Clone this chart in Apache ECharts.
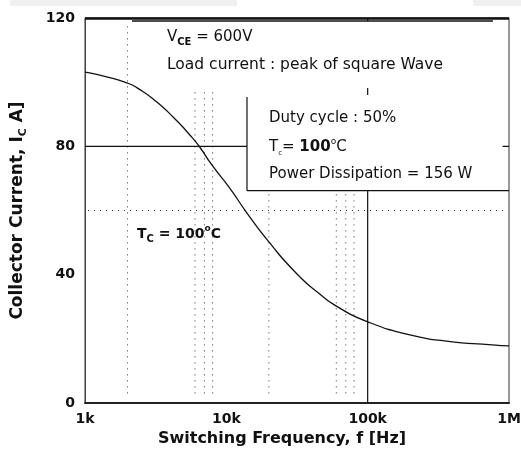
<!DOCTYPE html>
<html>
<head>
<meta charset="utf-8">
<script src="https://cdn.jsdelivr.net/npm/echarts@6/dist/echarts.min.js"></script>
<style>
  html, body { margin: 0; padding: 0; background: #fff; }
  #chart { width: 521px; height: 459px; }
</style>
</head>
<body>
<div id="chart"></div>
<script>
// switching frequency [Hz] vs collector current [A]
const freqs = [1000, 1400, 2000, 2400, 3100, 4300, 5400, 6400, 7900, 10600, 14000, 20000, 31500, 46000, 60000, 100000, 210000, 360000, 760000, 1000000];
const current = [103.1, 101.7, 99.7, 97.9, 94.4, 88.7, 84, 80.1, 74.2, 66.9, 59.2, 50.2, 40.3, 33.9, 30.2, 25.3, 21, 19.3, 18.1, 17.8];

const xTicks = { 1000: '1k', 10000: '10k', 100000: '100k', 1000000: '1M' };
const yTicks = [0, 40, 80, 120];

// leftover dotted grid pieces
const dotFreqsTall = [2000];
const dotFreqsMid = [6000, 7000, 8000];
const dotFreqsLow = [20000, 60000, 70000, 80000];
const dotLevel = 60;

// solid reference lines / legend box outline
const boxFreq = 14000;
const boxTop = 95.4;
const boxBottom = 66.2;
const refCurrent = 80;
const refFreq = 100000;

const chart = echarts.init(document.getElementById('chart'));
const font = "'DejaVu Sans', 'Liberation Sans', sans-serif";

const segs = [];
function seg(pts, style) {
  segs.push({
    type: 'line',
    data: pts,
    showSymbol: false,
    silent: true,
    lineStyle: style,
    z: 1
  });
}
const dotted = { color: '#333', width: 1, type: [1, 5] };
const solid = { color: '#111', width: 1.2 };

dotFreqsTall.forEach(f => seg([[f, 3], [f, 118]], dotted));
dotFreqsMid.forEach(f => seg([[f, 3], [f, 97.5]], dotted));
dotFreqsLow.forEach(f => seg([[f, 3], [f, boxBottom]], dotted));
seg([[1050, dotLevel], [970000, dotLevel]], dotted);

seg([[1000, refCurrent], [boxFreq, refCurrent]], solid);
seg([[boxFreq, boxTop], [boxFreq, boxBottom], [1000000, boxBottom]], solid);
seg([[refFreq, boxBottom], [refFreq, 0]], solid);
seg([[refFreq, 98.2], [refFreq, 96]], solid);
seg([[900000, refCurrent], [1000000, refCurrent]], solid);
seg([[2150, 119.1], [770000, 119.1]], { color: '#111', width: 1.5 });
seg([[refFreq, 119.1], [refFreq, 120]], solid);

const subStyle = { fontFamily: font, fontSize: 10, fontWeight: 'bold', fill: '#111', verticalAlign: 'bottom', lineHeight: 20 };
const supStyle = { fontFamily: font, fontSize: 9, fontWeight: 'bold', fill: '#111', verticalAlign: 'top', lineHeight: 20 };

const option = {
  animation: false,
  grid: {
    left: 85, right: 12, top: 18, bottom: 56,
    outerBoundsMode: 'none',
    show: true, borderColor: '#333', borderWidth: 1
  },
  xAxis: {
    type: 'log', logBase: 10, min: 1000, max: 1000000,
    name: 'Switching Frequency, f [Hz]',
    nameLocation: 'middle', nameGap: 26,
    nameTextStyle: { fontFamily: font, fontWeight: 'bold', fontSize: 16, color: '#111', padding: [0, 30, 0, 0] },
    axisLine: { show: true, lineStyle: { color: '#222', width: 2 } },
    axisTick: { show: false },
    splitLine: { show: false },
    minorTick: { show: false },
    axisLabel: {
      margin: 9, fontFamily: font, fontWeight: 'bold', fontSize: 14, color: '#111',
      formatter: v => xTicks[Math.round(v)] || ''
    }
  },
  yAxis: {
    type: 'value', min: 0, max: 120, interval: 40,
    name: 'Collector Current, I{sub|C} A]',
    nameLocation: 'middle', nameGap: 56,
    nameTextStyle: {
      fontFamily: font, fontWeight: 'bold', fontSize: 17, color: '#111', lineHeight: 22,
      rich: { sub: { fontFamily: font, fontWeight: 'bold', fontSize: 11, color: '#111', verticalAlign: 'bottom', lineHeight: 22 } }
    },
    axisLine: { show: true, lineStyle: { color: '#444', width: 1 } },
    axisTick: { show: false },
    splitLine: { show: false },
    axisLabel: {
      margin: 10, fontFamily: font, fontWeight: 'bold', fontSize: 14, color: '#111',
      formatter: v => yTicks.includes(v) ? String(v) : ''
    }
  },
  graphic: [
    { type: 'rect', shape: { x: 10, y: 0, width: 227, height: 6 }, style: { fill: '#f0f0f0' }, z: -1 },
    { type: 'rect', shape: { x: 473, y: 0, width: 48, height: 6 }, style: { fill: '#f0f0f0' }, z: -1 },
    {
      type: 'text', left: 167, top: 27,
      style: {
        text: 'V{sub|CE} = 600V', font: '15px ' + font, fill: '#111', lineHeight: 20,
        rich: { sub: subStyle }
      }
    },
    { type: 'text', left: 167, top: 57, style: { text: 'Load current : peak of square Wave', font: '15.5px ' + font, fill: '#111' } },
    { type: 'text', left: 269, top: 111, style: { text: 'Duty cycle : 50%', font: '15px ' + font, fill: '#111' } },
    {
      type: 'text', left: 269, top: 137,
      style: {
        text: 'T{sub|c}= {b|100}{sup|o}C', font: '15px ' + font, fill: '#111', lineHeight: 20,
        rich: {
          sub: { fontFamily: font, fontSize: 7, fill: '#111', verticalAlign: 'bottom', lineHeight: 20 },
          b: { fontFamily: font, fontWeight: 'bold', fontSize: 15, fill: '#111' },
          sup: { fontFamily: font, fontSize: 9, fill: '#111', verticalAlign: 'top', lineHeight: 20 }
        }
      }
    },
    { type: 'text', left: 269, top: 167, style: { text: 'Power Dissipation = 156 W', font: '15px ' + font, fill: '#111' } },
    {
      type: 'text', left: 137, top: 224,
      style: {
        text: 'T{sub|C} = 100{sup|o}C', font: 'bold 14px ' + font, fill: '#111', lineHeight: 20,
        rich: { sub: subStyle, sup: supStyle }
      }
    }
  ],
  series: segs.concat([
    {
      type: 'line',
      data: freqs.map((f, i) => [f, current[i]]),
      smooth: 0.6,
      showSymbol: false,
      lineStyle: { color: '#111', width: 1.3 },
      z: 3
    },
    {
      type: 'line', data: [], silent: true,
      markLine: {
        silent: true, symbol: 'none', label: { show: false },
        lineStyle: { color: '#111', width: 2.5, type: 'solid' },
        data: [{ yAxis: 120 }]
      }
    }
  ])
};

chart.setOption(option);
</script>
</body>
</html>
